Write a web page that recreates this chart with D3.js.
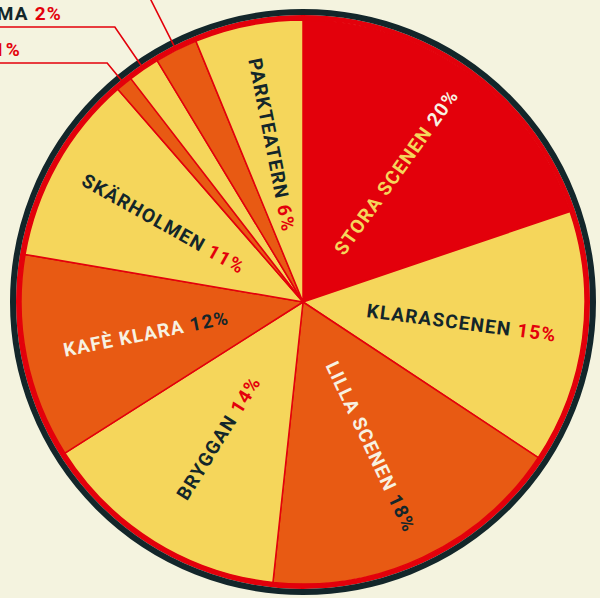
<!DOCTYPE html>
<html>
<head>
<meta charset="utf-8">
<script src="https://cdn.jsdelivr.net/npm/d3@7"></script>
<style>
  html, body { margin: 0; padding: 0; background: #f4f3df; }
  svg { display: block; }
  text { font-family: Roboto, "DejaVu Sans", sans-serif; font-weight: 700; letter-spacing: 1.2px; }
</style>
</head>
<body>
<div id="chart"></div>
<script>
var width = 600;
var height = 598;

// scenes, clockwise from 12 o'clock
var scenes = ['STORA SCENEN', 'KLARASCENEN', 'LILLA SCENEN', 'BRYGGAN', 'KAFÈ KLARA',
              'SKÄRHOLMEN', 'ÖVRIGT', 'PANORAMA', 'HÖRSALEN', 'PARKTEATERN'];
// slice size (share of 100)
var shares = [19.8, 14.5, 17.4, 14.3, 11.7, 10.9, 0.95, 1.8, 2.45, 6.2];
// printed percentages
var pctLabels = ['20%', '15%', '18%', '14%', '12%', '11%', '1%', '2%', '2%', '6%'];
var fills = ['red', 'yellow', 'orange', 'yellow', 'orange', 'yellow', 'orange', 'yellow', 'orange', 'yellow'];
var nameColors = ['yellow', 'dark', 'cream', 'dark', 'cream', 'dark', 'dark', 'dark', 'dark', 'dark'];
var pctColors = ['cream', 'red', 'dark', 'red', 'dark', 'red', 'red', 'red', 'red', 'red'];

var palette = {
    red: '#e3000b',
    orange: '#e85a13',
    yellow: '#f5d65b',
    dark: '#13262a',
    cream: '#f7f2e2'
};

// small slices get an outside label with a leader line
var outsideIdx = [6, 7, 8];
var leaderRowY = [63, 27, -14];
var labelEndX = [21, 62, 110];

var cx = 303, cy = 302;
var rFill = 282;
var labelR = 160;

var svg = d3.select('#chart').append('svg')
    .attr('width', width)
    .attr('height', height);

svg.append('rect')
    .attr('width', width)
    .attr('height', height)
    .attr('fill', '#f4f3df');

var g = svg.append('g').attr('transform', 'translate(' + cx + ',' + cy + ')');

var pie = d3.pie().sort(null).value(function (d) { return d; });
var arcs = pie(shares);

var arc = d3.arc().innerRadius(0).outerRadius(rFill);

g.selectAll('path.slice')
    .data(arcs)
    .enter().append('path')
    .attr('class', 'slice')
    .attr('d', arc)
    .attr('fill', function (d, i) { return palette[fills[i]]; })
    .attr('stroke', palette.red)
    .attr('stroke-width', 1.5)
    .attr('stroke-linejoin', 'round');

// rim: red band then dark band
g.append('circle')
    .attr('r', 284.5)
    .attr('fill', 'none')
    .attr('stroke', palette.red)
    .attr('stroke-width', 5);
g.append('circle')
    .attr('r', 290)
    .attr('fill', 'none')
    .attr('stroke', palette.dark)
    .attr('stroke-width', 6);

function deg(a) { return a * 180 / Math.PI; }

// inside labels, radial
arcs.forEach(function (d, i) {
    if (outsideIdx.indexOf(i) >= 0) return;
    var mid = deg((d.startAngle + d.endAngle) / 2);
    var tr;
    if (mid < 180) {
        tr = 'rotate(' + (mid - 90) + ') translate(' + labelR + ',0)';
    } else {
        tr = 'rotate(' + (mid + 90) + ') translate(' + (-labelR) + ',0)';
    }
    var t = g.append('text')
        .attr('transform', tr)
        .attr('text-anchor', 'middle')
        .attr('dy', '0.36em')
        .attr('font-size', 19);
    t.append('tspan').attr('fill', palette[nameColors[i]]).text(scenes[i]);
    t.append('tspan').attr('fill', palette[pctColors[i]]).text(' ' + pctLabels[i]);
});

// outside labels with leader lines
outsideIdx.forEach(function (idx, k) {
    var d = arcs[idx];
    var a = (d.startAngle + d.endAngle) / 2;
    var r0 = 285;
    var x0 = cx + r0 * Math.sin(a), y0 = cy - r0 * Math.cos(a);
    var rowY = leaderRowY[k];
    // extend radially until reaching the label row
    var t = (cy - rowY) / Math.cos(a);
    var x1 = cx + t * Math.sin(a);
    svg.append('polyline')
        .attr('points', [[x0, y0], [x1, rowY], [-20, rowY]].map(function (p) { return p.join(','); }).join(' '))
        .attr('fill', 'none')
        .attr('stroke', palette.red)
        .attr('stroke-width', 1.6);
    var lbl = svg.append('text')
        .attr('x', labelEndX[k])
        .attr('y', rowY - 7.5)
        .attr('text-anchor', 'end')
        .attr('font-size', 19);
    lbl.append('tspan').attr('fill', palette[nameColors[idx]]).text(scenes[idx]);
    lbl.append('tspan').attr('fill', palette[pctColors[idx]]).text(' ' + pctLabels[idx]);
});
</script>
</body>
</html>
